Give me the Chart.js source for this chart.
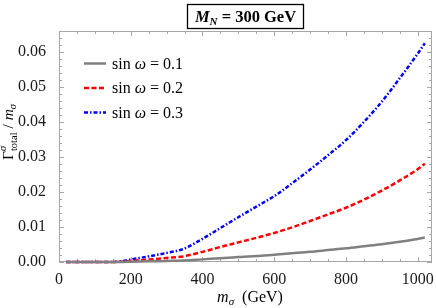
<!DOCTYPE html>
<html>
<head>
<meta charset="utf-8">
<script src="https://cdn.jsdelivr.net/npm/chart.js@4.4.1/dist/chart.umd.min.js"></script>
<style>
  html, body { margin: 0; padding: 0; background: #fff; }
  #wrap { width: 436px; height: 308px; position: relative; }
</style>
</head>
<body>
<div id="wrap"><canvas id="widthChart"></canvas></div>
<script>
// m_sigma in GeV
const massGeV = [20, 50, 100, 150, 160, 180, 200, 250, 300, 346, 400, 450, 500, 550, 600, 650, 700, 750, 800, 850, 900, 950, 1000, 1020];
// Gamma_total / m_sigma for each mixing angle
const widthSin01 = [0, 0, 0, 0, 0, 0.00003, 0.00008, 0.00018, 0.0003, 0.0004, 0.00075, 0.0011, 0.0014, 0.0017, 0.0021, 0.0025, 0.0029, 0.0034, 0.0039, 0.0045, 0.0051, 0.0058, 0.0066, 0.0070];
const widthSin02 = [0, 0, 0, 0, 0.00002, 0.00013, 0.0003, 0.0007, 0.00115, 0.0016, 0.0029, 0.0043, 0.0056, 0.0069, 0.0083, 0.0099, 0.0117, 0.0136, 0.0155, 0.0178, 0.0204, 0.0233, 0.0265, 0.0281];
const widthSin03 = [0, 0, 0, 0, 0.00005, 0.0003, 0.0007, 0.0016, 0.0026, 0.0037, 0.0066, 0.0097, 0.0128, 0.0158, 0.0188, 0.0225, 0.0264, 0.0305, 0.0348, 0.0400, 0.0458, 0.0525, 0.0595, 0.0625];
const seriesLabels = ['0.1', '0.2', '0.3'];
const xTicks = [0, 200, 400, 600, 800, 1000];
const yTicks = [0, 0.01, 0.02, 0.03, 0.04, 0.05, 0.06];

const serif = '"Liberation Serif", "DejaVu Serif", serif';
const styles = [
  { color: '#808080', dash: [] },
  { color: '#ff0000', dash: [5, 2.5] },
  { color: '#0000ff', dash: [4, 2, 1.5, 2] }
];

const toPoints = (ys) => massGeV.map((m, i) => ({ x: m, y: ys[i] }));

// draw a row of text pieces; a piece with stack:true sits over the previous one
function drawRich(ctx, runs, x, y, align) {
  let pos = 0, prevStart = 0, prevW = 0;
  runs.forEach(r => {
    ctx.font = r.f;
    r.w = ctx.measureText(r.t).width;
    if (r.stack) {
      r.x = prevStart;
      pos = prevStart + Math.max(prevW, r.w);
    } else {
      r.x = pos; prevStart = pos; prevW = r.w; pos += r.w;
    }
  });
  const x0 = align === 'center' ? x - pos / 2 : x;
  runs.forEach(r => {
    ctx.font = r.f;
    ctx.fillText(r.t, x0 + r.x, y + (r.dy || 0));
  });
  return pos;
}

const framePlugin = {
  id: 'frame',
  beforeDatasetsDraw(chart) {
    const { ctx, chartArea: a, scales: { x, y } } = chart;
    ctx.save();
    ctx.strokeStyle = '#a6a6a6';
    ctx.lineWidth = 1;
    ctx.strokeRect(a.left + 0.5, a.top + 0.5, a.right - a.left - 1, a.bottom - a.top - 1);
    ctx.beginPath();
    for (let v = 0; v <= 1040; v += 50) {
      const px = Math.round(x.getPixelForValue(v)) + 0.5;
      const len = v % 200 === 0 ? 5 : 3;
      ctx.moveTo(px, a.bottom); ctx.lineTo(px, a.bottom - len);
      ctx.moveTo(px, a.top); ctx.lineTo(px, a.top + len);
    }
    for (let k = 0; k <= 33; k++) {
      const py = Math.round(y.getPixelForValue(k * 0.002)) + 0.5;
      const len = k % 5 === 0 ? 5 : 3;
      ctx.moveTo(a.left, py); ctx.lineTo(a.left + len, py);
      ctx.moveTo(a.right, py); ctx.lineTo(a.right - len, py);
    }
    ctx.stroke();
    ctx.restore();
  },
  afterDraw(chart) {
    const { ctx } = chart;
    ctx.save();
    ctx.fillStyle = '#000';
    ctx.textBaseline = 'alphabetic';

    // title box
    ctx.strokeStyle = '#000';
    ctx.lineWidth = 1.3;
    ctx.strokeRect(187.5, 4.5, 116, 24);
    drawRich(ctx, [
      { t: 'M', f: 'italic bold 16.5px ' + serif },
      { t: 'N', f: 'italic bold 11px ' + serif, dy: 3 },
      { t: ' = 300 GeV', f: 'bold 16.5px ' + serif }
    ], 245.5, 22, 'center');

    // x axis title
    drawRich(ctx, [
      { t: 'm', f: 'italic 16px ' + serif },
      { t: 'σ', f: 'italic 11px ' + serif, dy: 3 },
      { t: '  (GeV)', f: '16px ' + serif }
    ], 250, 302, 'center');

    // y axis title
    ctx.save();
    ctx.translate(13, 132);
    ctx.rotate(-Math.PI / 2);
    drawRich(ctx, [
      { t: 'Γ', f: '15.5px ' + serif },
      { t: 'σ', f: 'italic 10.5px ' + serif, dy: -7 },
      { t: 'total', f: '10.5px ' + serif, dy: 4, stack: true },
      { t: ' / ', f: '15.5px ' + serif },
      { t: 'm', f: 'italic 15.5px ' + serif },
      { t: 'σ', f: 'italic 10.5px ' + serif, dy: 3 }
    ], 0, 0, 'center');
    ctx.restore();

    // legend
    seriesLabels.forEach((lab, i) => {
      const cy = 63.5 + i * 24.5;
      ctx.save();
      ctx.strokeStyle = styles[i].color;
      ctx.lineWidth = 2.5;
      ctx.setLineDash(styles[i].dash);
      ctx.beginPath();
      ctx.moveTo(84, cy); ctx.lineTo(106, cy);
      ctx.stroke();
      ctx.restore();
      drawRich(ctx, [
        { t: 'sin ', f: '16px ' + serif },
        { t: 'ω', f: 'italic 16px ' + serif },
        { t: ' = ' + lab, f: '16px ' + serif }
      ], 112, cy + 5, 'left');
    });
    ctx.restore();
  }
};

const ctx = document.getElementById('widthChart').getContext('2d');
new Chart(ctx, {
  type: 'line',
  data: {
    datasets: [widthSin01, widthSin02, widthSin03].map((ys, i) => ({
      label: 'sin ω = ' + seriesLabels[i],
      data: toPoints(ys),
      borderColor: styles[i].color,
      borderDash: styles[i].dash,
      borderWidth: 2.5,
      pointRadius: 0,
      cubicInterpolationMode: 'monotone',
      clip: false,
      fill: false
    }))
  },
  options: {
    animation: false,
    responsive: true,
    maintainAspectRatio: false,
    layout: { padding: { top: 31, right: 4, left: 0, bottom: 0 } },
    plugins: { legend: { display: false }, tooltip: { enabled: false } },
    scales: {
      x: {
        type: 'linear',
        min: 0,
        max: 1040,
        afterFit: (s) => { s.height = 46; },
        afterBuildTicks: (s) => { s.ticks = xTicks.map(v => ({ value: v })); },
        ticks: {
          font: { family: serif, size: 16 },
          color: '#1a1a1a',
          padding: 0,
          maxRotation: 0,
          callback: (v) => String(v)
        },
        grid: { display: false },
        border: { display: false }
      },
      y: {
        min: 0,
        max: 0.066,
        afterFit: (s) => { s.width = 59; },
        afterBuildTicks: (s) => { s.ticks = yTicks.map(v => ({ value: v })); },
        ticks: {
          font: { family: serif, size: 16 },
          color: '#1a1a1a',
          padding: 5,
          callback: (v) => v.toFixed(2)
        },
        grid: { display: false },
        border: { display: false }
      }
    }
  },
  plugins: [framePlugin]
});
</script>
</body>
</html>
